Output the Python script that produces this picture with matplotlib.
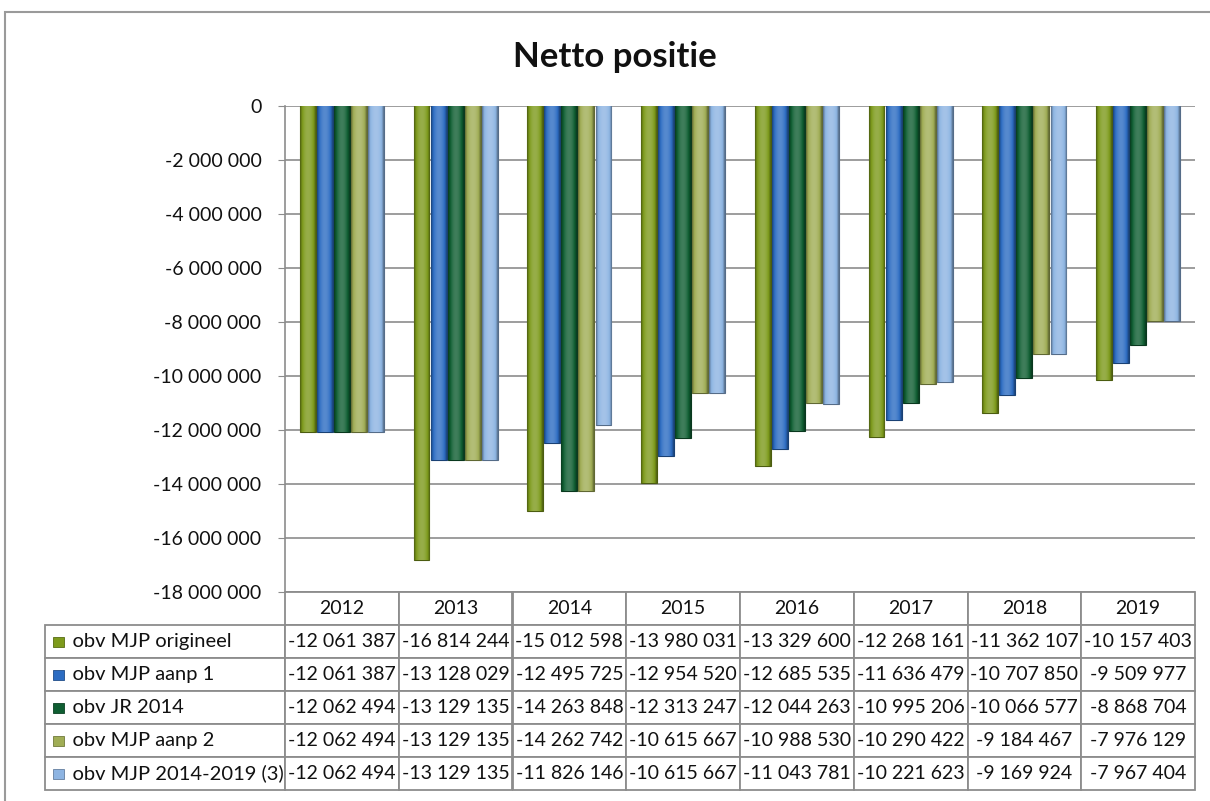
import numpy as np
import matplotlib
matplotlib.use('Agg')
import matplotlib.pyplot as plt
from matplotlib.patches import Rectangle
from matplotlib.ticker import FuncFormatter

plt.rcParams['font.family'] = ['Lato', 'DejaVu Sans']

years = ['2012', '2013', '2014', '2015', '2016', '2017', '2018', '2019']
series = ['obv MJP origineel', 'obv MJP aanp 1', 'obv JR 2014', 'obv MJP aanp 2',
          'obv MJP 2014-2019 (3)']
mjp_origineel = [-12061387, -16814244, -15012598, -13980031, -13329600, -12268161, -11362107, -10157403]
mjp_aanp1 = [-12061387, -13128029, -12495725, -12954520, -12685535, -11636479, -10707850, -9509977]
jr_2014 = [-12062494, -13129135, -14263848, -12313247, -12044263, -10995206, -10066577, -8868704]
mjp_aanp2 = [-12062494, -13129135, -14262742, -10615667, -10988530, -10290422, -9184467, -7976129]
mjp_2014_2019 = [-12062494, -13129135, -11826146, -10615667, -11043781, -10221623, -9169924, -7967404]
values = [mjp_origineel, mjp_aanp1, jr_2014, mjp_aanp2, mjp_2014_2019]
colors = ['#7d9a1b', '#2c6cc2', '#0f5e32', '#a0ad55', '#8db4e2']


def fmt(v):
    return f"{int(v):,}".replace(',', ' ')


def shade(c, f):
    c = np.array(matplotlib.colors.to_rgb(c))
    if f < 0:
        return c * (1 + f)
    return c + (1 - c) * f


W, H = 1210, 801
fig = plt.figure(figsize=(W / 100, H / 100), dpi=100)
fig.patches.append(Rectangle((5 / W, -0.01), 1.02, 1 - 12 / H + 0.01, transform=fig.transFigure,
                             fill=False, edgecolor='#9a9a9a', linewidth=1.5))

ax = fig.add_axes([285 / W, 1 - 592 / H, 910 / W, 486 / H])
x = np.arange(len(years))
pitch = 0.15
for i, (vals, col) in enumerate(zip(values, colors)):
    bars = ax.bar(x + (i - 2) * pitch, vals, width=0.14, color=col, edgecolor=shade(col, -0.4),
                  linewidth=0.8, zorder=3)
    # cylinder-ish shading
    grad = np.linspace(-1, 1, 64)
    prof = 1 - grad ** 2
    cmap = matplotlib.colors.LinearSegmentedColormap.from_list(
        'c%d' % i, [shade(col, -0.4), col, shade(col, 0.2)])
    for b in bars:
        im = ax.imshow(prof[np.newaxis, :], cmap=cmap, aspect='auto', zorder=4,
                       extent=[b.get_x(), b.get_x() + b.get_width(), b.get_y() + b.get_height(), b.get_y()],
                       interpolation='bilinear')
        im.set_clip_path(b)

ax.set_xlim(-0.5, len(years) - 0.5)
ax.set_ylim(-18000000, 0)
ax.set_yticks(np.arange(-18000000, 1, 2000000))
ax.yaxis.set_major_formatter(FuncFormatter(lambda v, p: fmt(v)))
ax.set_xticks([])
ax.grid(axis='y', color='#8c8c8c', linewidth=1.2, zorder=0)
for s in ['top', 'right', 'bottom']:
    ax.spines[s].set_visible(False)
ax.spines['left'].set_color('#8c8c8c')
ax.spines['left'].set_linewidth(1.2)
ax.tick_params(axis='y', labelsize=14, length=5, color='#8c8c8c', pad=12, labelcolor='#111111')

fig.text(615 / W, 1 - 57 / H, 'Netto positie', ha='center', va='center', fontsize=25, fontweight='bold',
         color='#111111')

# data table
cell_text = [['    ' + s] + [fmt(v) for v in vals] for s, vals in zip(series, values)]
lw = 240 / 1150
cw = 113.75 / 1150
tbl = ax.table(cellText=cell_text, colLabels=[''] + years, colWidths=[lw] + [cw] * 8,
               cellLoc='center', bbox=[-240 / 910, -198 / 486, 1150 / 910, 198 / 486])
tbl.auto_set_font_size(False)
tbl.set_fontsize(14)
for (r, c), cell in tbl.get_celld().items():
    cell.set_edgecolor('#8c8c8c')
    cell.set_linewidth(1.3)
    cell.PAD = 0.03
    cell.get_text().set_color('#111111')
    if c == 0:
        cell.get_text().set_ha('left')
        cell.get_text().set_fontsize(14.5)
        cell._loc = 'left'
    if r == 0 and c == 0:
        cell.visible_edges = ''

# legend keys in row label cells
row_h = 198 / 486 / 6
for i, col in enumerate(colors):
    yc = -198 / 486 + row_h * (4 - i) + row_h / 2
    ax.add_patch(Rectangle((-232 / 910, yc - 5 / 486), 11 / 910, 10 / 486, transform=ax.transAxes,
                           facecolor=col, edgecolor=shade(col, -0.3), linewidth=0.6, clip_on=False))

fig.savefig('out.png', dpi=100)
